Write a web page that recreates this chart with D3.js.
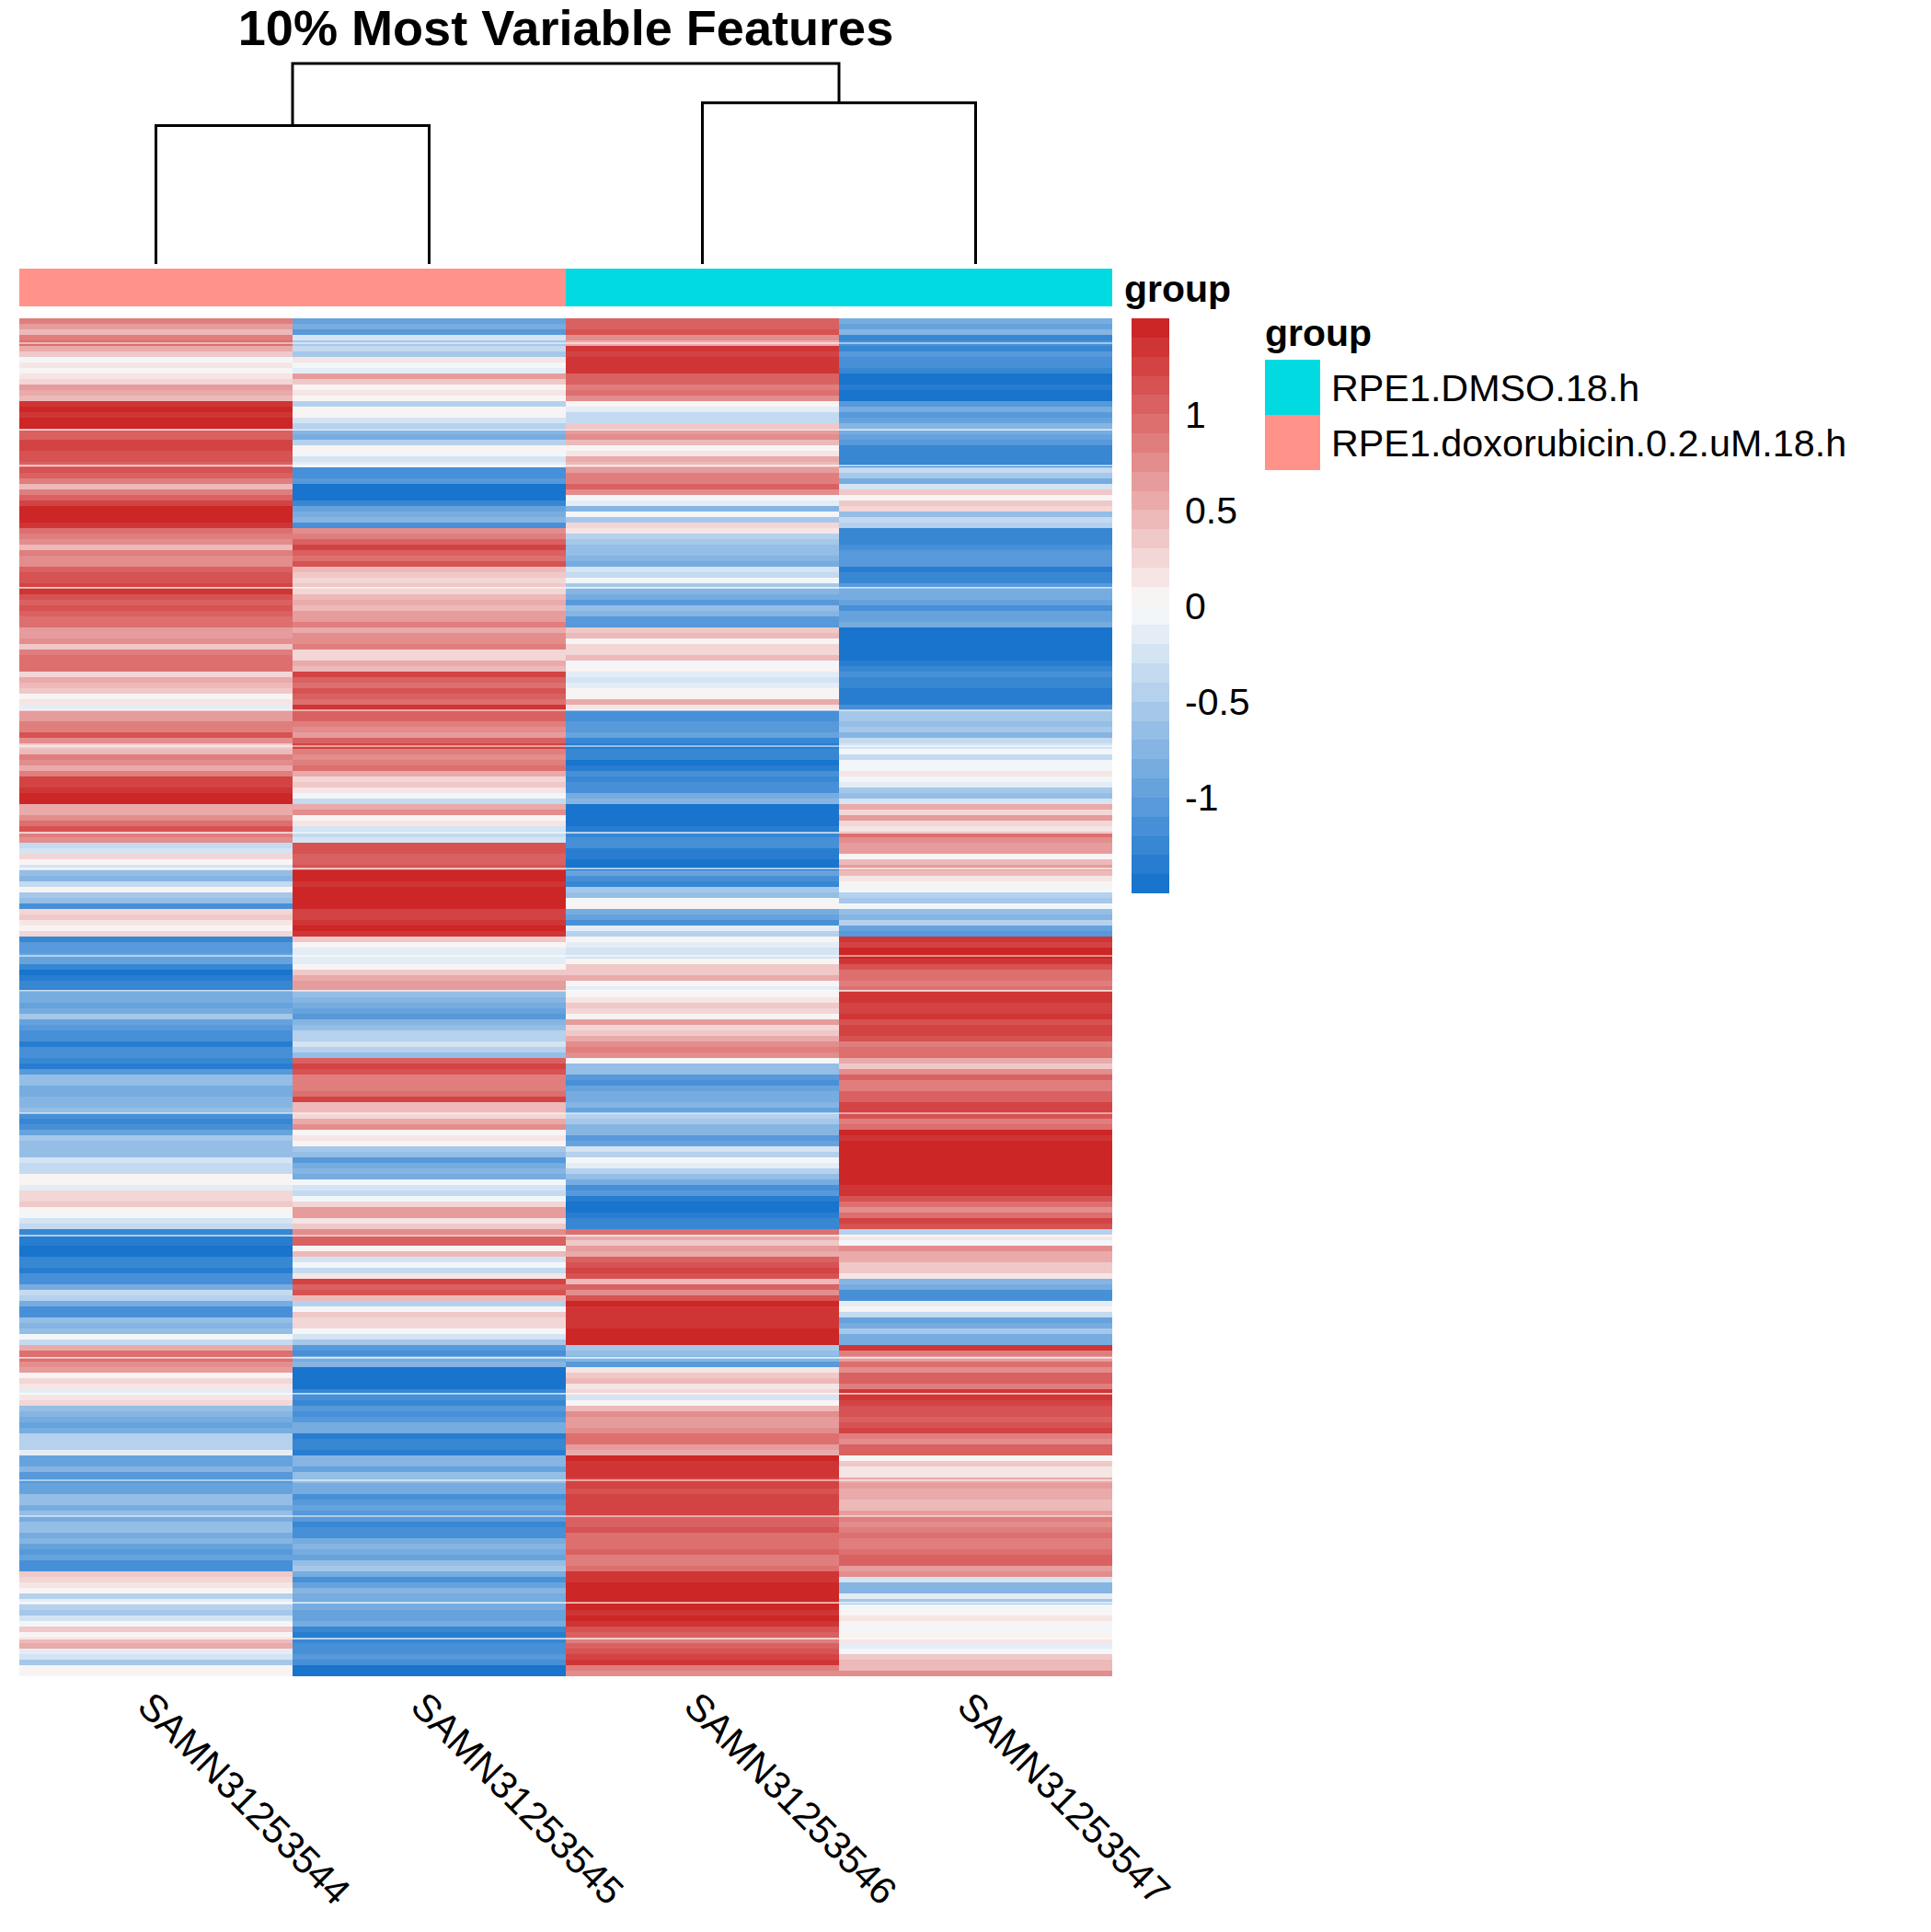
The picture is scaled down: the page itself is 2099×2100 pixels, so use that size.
<!DOCTYPE html>
<html>
<head>
<meta charset="utf-8">
<script src="https://cdn.jsdelivr.net/npm/d3@7"></script>
<style>
  body { margin: 0; background: #fff; }
  text { font-family: "Liberation Sans", Arial, sans-serif; fill: #000; }
</style>
</head>
<body>
<div id="chart"></div>
<script>
// samples and groups
const samples = ["SAMN31253544", "SAMN31253545", "SAMN31253546", "SAMN31253547"];
const sampleGroups = ["RPE1.doxorubicin.0.2.uM.18.h", "RPE1.doxorubicin.0.2.uM.18.h", "RPE1.DMSO.18.h", "RPE1.DMSO.18.h"];
const groupNames = ["RPE1.DMSO.18.h", "RPE1.doxorubicin.0.2.uM.18.h"];
const groupColors = ["#00DAE0", "#FF9289"];
const legendTicks = [-1, -0.5, 0, 0.5, 1];

// dendrogram, heights relative to the root
const mergeTree = {
  height: 1,
  children: [
    { height: 0.69, children: [{ height: 0, name: samples[0] }, { height: 0, name: samples[1] }] },
    { height: 0.804, children: [{ height: 0, name: samples[2] }, { height: 0, name: samples[3] }] }
  ]
};

// scaled expression, top row to bottom row
const valuesA = [
  0.8,0.6,0.4,0.8,0.9,0.5,0.3,-0.1,0.1,0.05,
  0.15,0.2,0.6,0.5,0.4,1.3,1.4,1.3,1.5,1.45,
  1.0,1.0,1.2,1.25,1.1,1.1,1.0,1.1,1.0,0.8,
  0.4,0.8,1.0,1.2,1.4,1.5,1.45,1.3,0.9,0.8,
  0.7,0.45,0.8,0.7,0.75,1.0,1.1,1.15,1.25,1.35,
  1.15,1.05,1.15,1.0,0.95,0.9,0.6,0.6,0.7,0.35,
  0.85,0.95,0.9,0.95,0.2,0.55,0.45,0.35,0.05,0.1,
  -0.2,0.6,0.65,0.85,0.85,1.1,0.7,0.3,0.45,0.8,
  0.75,0.55,0.8,1.2,1.2,1.3,1.5,1.45,0.5,0.55,
  0.75,0.9,1.15,0.8,0.75,-0.4,-0.3,0.2,0.05,-0.3,
  -0.7,-0.8,-0.4,0.0,-0.6,-0.7,-1.2,0.2,0.3,0.1,
  0.05,0.2,-1.3,-1.1,-1.1,-1.0,-1.0,-1.25,-1.45,-1.4,
  -1.3,-1.3,-0.9,-0.85,-0.95,-0.85,-0.55,-0.95,-1.05,-1.15,
  -1.2,-1.35,-1.2,-1.15,-1.25,-1.4,-1.1,-0.7,-0.65,-0.9,
  -0.9,-0.8,-0.8,-0.7,-1.2,-1.25,-1.15,-1.0,-0.55,-0.7,
  -0.7,-0.65,-0.3,-0.4,-0.35,0.03,0.0,-0.2,0.2,0.25,
  0.3,0.0,-0.1,-0.3,-0.35,-1.3,-1.35,-1.4,-1.5,-1.45,
  -1.25,-1.3,-1.4,-1.2,-1.15,-0.9,-0.4,-0.5,-0.9,-1.15,
  -1.15,-0.7,-0.8,-0.7,-0.05,-0.4,0.5,0.95,0.9,0.7,
  0.65,0.03,0.25,0.1,-0.2,0.1,0.2,-0.7,-0.75,-0.85,
  -0.95,-0.85,-0.45,-0.5,-0.45,-0.2,-1.0,-0.95,-0.75,-1.1,
  -1.1,-1.0,-0.95,-0.65,-0.7,-0.85,-0.7,-0.85,-0.65,-0.7,
  -0.85,-0.75,-1.0,-1.05,-0.95,-1.2,-1.15,0.3,0.2,0.1,
  0.02,-0.5,-0.2,-0.45,-0.55,-0.3,-0.1,0.3,0.0,0.45,
  0.55,-0.2,-0.3,-0.55,0.05,0.05
];
const valuesB = [
  -0.95,-0.85,-1.05,-0.3,-0.6,-0.4,-0.55,0.1,-0.03,-0.2,
  0.6,0.3,0.05,0.1,0.0,-0.5,0.02,0.02,-0.3,-0.45,
  -0.8,-0.85,-0.5,0.0,-0.1,-0.3,-0.2,-1.2,-1.15,-1.05,
  -1.45,-1.5,-1.45,-1.3,-1.0,-0.85,-0.75,-1.2,0.7,0.8,
  1.0,1.2,1.05,0.95,1.1,0.4,0.35,0.25,0.3,0.2,
  0.4,0.5,0.45,0.6,0.65,0.8,0.55,0.7,0.7,0.85,
  0.2,0.25,0.5,0.45,1.25,1.0,0.95,1.1,1.05,0.95,
  1.3,1.05,1.05,0.8,0.75,0.65,1.05,1.2,0.8,0.75,
  0.8,0.95,0.5,0.2,0.35,0.1,-0.1,-0.35,0.55,0.7,
  0.05,0.1,-0.3,-0.4,-0.25,1.1,1.15,1.0,1.05,1.1,
  1.45,1.4,1.35,1.45,1.5,1.45,1.4,1.2,1.25,1.3,
  1.4,1.35,0.3,0.0,-0.15,-0.2,-0.2,0.05,0.3,0.55,
  0.65,0.6,-0.7,-0.75,-0.9,-0.95,-1.1,-0.75,-0.7,-0.45,
  -0.45,-0.25,-0.5,-0.7,1.0,1.25,1.15,0.85,0.8,0.85,
  0.95,1.2,0.45,0.4,0.25,0.55,0.7,0.02,0.15,0.03,
  -0.6,-0.7,-1.1,-0.85,-0.75,-0.9,-0.03,-0.25,-0.4,-0.1,
  0.25,0.6,0.65,0.15,0.3,0.75,1.0,1.05,0.02,0.45,
  -0.3,-0.1,-0.4,0.1,1.25,1.05,1.15,0.45,-0.45,-0.1,
  0.3,0.25,0.2,-0.1,-0.3,-0.55,-1.05,-1.2,-0.9,-0.75,
  -1.5,-1.5,-1.5,-1.45,-1.3,-1.15,-1.3,-1.1,-1.15,-1.05,
  -0.85,-0.85,-1.35,-1.3,-1.3,-1.35,-0.75,-0.75,-1.0,-0.65,
  -0.7,-0.9,-0.85,-1.2,-1.05,-1.0,-1.05,-1.1,-1.25,-1.15,
  -1.2,-0.85,-0.8,-0.9,-0.95,-0.65,-0.6,-0.9,-1.2,-0.95,
  -0.75,-0.85,-0.9,-0.85,-0.95,-1.0,-0.9,-1.3,-1.35,-1.25,
  -1.15,-1.2,-1.1,-1.15,-1.45,-1.45
];
const valuesC = [
  1.0,1.05,1.15,0.7,0.5,1.3,1.25,1.35,1.3,1.3,
  1.0,1.05,0.85,0.9,0.75,0.03,-0.2,-0.35,-0.4,0.3,
  0.65,0.7,0.4,0.03,0.15,0.55,0.4,0.6,0.8,0.8,
  1.0,0.7,-0.1,-0.15,-0.75,-0.05,-0.6,0.25,0.15,-0.45,
  -0.55,-0.65,-0.7,-0.75,-0.9,-0.3,-0.35,-0.1,-0.6,-0.75,
  -0.85,-1.1,-0.65,-0.75,-1.05,-1.1,0.35,0.4,0.05,0.25,
  0.2,0.4,-0.1,0.0,-0.2,-0.3,-0.2,0.0,0.0,0.5,
  0.15,-1.2,-1.15,-1.05,-1.1,-1.0,-1.25,-1.35,-1.3,-1.25,
  -1.45,-1.4,-1.2,-1.25,-1.2,-1.15,-0.9,-0.8,-1.5,-1.5,
  -1.5,-1.5,-1.4,-1.25,-1.2,-1.15,-1.35,-1.4,-1.45,-1.45,
  -1.0,-1.15,-1.3,-0.6,-0.7,-0.1,0.0,-0.85,-1.0,-1.15,
  -0.2,-0.5,0.05,-0.15,-0.3,-0.25,0.03,0.3,0.35,0.5,
  0.0,-0.15,0.02,0.15,0.3,0.25,0.05,0.6,0.25,0.35,
  0.5,0.7,0.85,0.7,-0.1,-0.65,-0.7,-1.1,-1.15,-0.95,
  -0.9,-0.85,-0.8,-0.95,-0.45,-0.6,-0.75,-0.75,-1.1,-0.95,
  -0.3,-0.45,-0.1,-0.2,-0.45,-0.7,-0.85,-1.15,-1.1,-1.35,
  -1.5,-1.45,-1.4,-1.3,-1.25,0.9,0.55,0.35,0.65,0.55,
  1.05,1.15,1.2,1.1,0.4,1.0,0.7,1.1,1.45,1.35,
  1.3,1.35,1.3,1.5,1.45,1.45,-0.6,-0.7,-0.75,-1.1,
  0.1,0.35,0.4,0.15,0.2,-0.3,0.02,0.4,0.7,0.65,
  0.6,0.75,0.9,0.95,0.65,0.55,1.4,1.35,1.3,1.35,
  1.2,1.2,1.15,1.25,1.2,1.25,1.25,1.0,1.0,1.15,
  0.95,0.9,0.95,1.0,0.85,0.85,0.95,1.35,1.3,1.4,
  1.4,1.5,1.45,1.45,1.35,1.4,1.3,1.1,1.0,0.85,
  1.0,1.15,1.2,1.3,0.8,0.75
];
const valuesD = [
  -0.9,-1.0,-0.75,-1.3,-1.15,-1.25,-1.1,-1.15,-1.2,-1.25,
  -1.5,-1.45,-1.4,-1.45,-1.45,-1.05,-0.85,-1.05,-0.95,-0.75,
  -0.85,-0.95,-1.05,-1.3,-1.25,-1.3,-1.25,-0.4,-0.6,-0.9,
  -0.3,0.35,0.03,0.3,0.2,-0.7,-0.35,-0.45,-1.3,-1.25,
  -1.25,-1.15,-1.05,-1.05,-1.1,-1.35,-1.3,-1.25,-1.1,-0.9,
  -0.85,-0.95,-1.15,-0.95,-1.0,-0.9,-1.5,-1.5,-1.5,-1.5,
  -1.45,-1.45,-1.35,-1.3,-1.2,-1.25,-1.3,-1.35,-1.35,-1.4,
  -1.15,-0.55,-0.6,-0.7,-0.55,-0.75,-0.4,-0.3,-0.05,-0.4,
  -0.05,-0.05,0.1,-0.1,-0.2,-0.6,-0.65,-0.25,0.5,0.25,
  0.6,0.2,0.15,0.95,0.75,0.6,0.6,0.05,0.45,0.6,
  0.45,0.15,0.05,-0.1,-0.5,-0.6,-0.1,-0.7,-0.75,-0.5,
  -0.95,-1.05,1.35,1.25,1.4,1.4,1.35,1.1,0.9,0.95,
  0.85,0.9,1.35,1.3,1.25,1.25,1.3,1.1,1.2,1.2,
  1.1,0.85,0.9,0.95,0.5,0.3,0.75,1.0,0.85,0.85,
  1.05,1.05,1.25,1.2,1.15,0.85,0.9,1.45,1.35,1.4,
  1.5,1.5,1.45,1.5,1.5,1.5,1.4,1.3,1.3,1.1,
  0.95,0.7,0.9,1.2,1.15,-0.45,0.15,-0.1,0.7,0.5,
  0.55,0.3,0.35,0.1,-0.75,-0.9,-1.15,-1.2,-0.2,0.03,
  -0.4,-0.95,-0.85,-0.6,-0.85,-0.9,1.3,0.8,0.65,0.9,
  0.75,1.0,1.05,0.85,1.3,1.35,1.2,1.15,1.1,1.05,
  1.15,1.2,0.85,0.75,1.0,1.05,0.03,0.3,0.15,0.15,
  0.5,0.6,0.5,0.55,0.45,0.45,0.65,0.85,0.7,0.8,
  0.9,0.85,0.8,0.9,1.0,1.0,0.6,0.75,-0.3,-0.75,
  -0.8,-0.2,-0.6,-0.1,0.02,0.1,0.03,-0.1,0.05,0.12,
  -0.15,-0.1,0.35,0.45,0.4,0.7
];
const columns = [valuesA, valuesB, valuesC, valuesD];

// thin white seams left by the raster, as row positions
const seamRows = [4.5, 20.2, 26.7, 48.8, 71, 77.5, 93.2, 99.7, 115.5, 121.8, 144, 166.2, 188.3, 194.8, 210.5, 217, 232.7, 239.2];

const width = 2099, height = 2100;
const heat = { left: 21, right: 1209, top: 346, bottom: 1822 };

const svg = d3.select("#chart").append("svg")
  .attr("width", width)
  .attr("height", height)
  .style("display", "block");

const rowCount = valuesA.length;

const x = d3.scaleBand().domain(samples).range([heat.left, heat.right]);
const y = d3.scaleLinear().domain([0, rowCount]).range([heat.top, heat.bottom]);

// blue - white - red ramp cut into 30 steps
const ramp = d3.scaleLinear().domain([0, 0.5, 1]).range(["#1874CD", "#FBFBFB", "#CD2626"]);
const steps = d3.range(30).map(i => ramp(i / 29));
const color = d3.scaleQuantize().domain([-1.5, 1.5]).range(steps);
const groupColor = d3.scaleOrdinal().domain(groupNames).range(groupColors);

// heatmap cells
samples.forEach((sample, c) => {
  svg.append("g").selectAll("rect")
    .data(columns[c])
    .enter()
    .append("rect")
    .attr("x", x(sample))
    .attr("y", (d, i) => y(i))
    .attr("width", x.bandwidth())
    .attr("height", (d, i) => y(i + 1) - y(i))
    .attr("fill", d => color(d))
    .attr("shape-rendering", "crispEdges");
});

svg.append("g").selectAll("line")
  .data(seamRows)
  .enter()
  .append("line")
  .attr("x1", heat.left)
  .attr("x2", heat.right)
  .attr("y1", d => y(d))
  .attr("y2", d => y(d))
  .attr("stroke", "#fff")
  .attr("stroke-width", 1.2);

// annotation bar
svg.append("g").selectAll("rect")
  .data(samples)
  .enter()
  .append("rect")
  .attr("x", d => x(d))
  .attr("y", 292)
  .attr("width", x.bandwidth())
  .attr("height", 41)
  .attr("fill", (d, i) => groupColor(sampleGroups[i]))
  .attr("shape-rendering", "crispEdges");

svg.append("text")
  .attr("x", 1222)
  .attr("y", 328)
  .attr("font-size", 41)
  .attr("font-weight", "bold")
  .text("group");

// dendrogram
const dendroY = d3.scaleLinear().domain([0, 1]).range([287, 69]);
const root = d3.hierarchy(mergeTree);
root.eachAfter(node => {
  node.px = node.children ? d3.mean(node.children, k => k.px) : x(node.data.name) + x.bandwidth() / 2;
});
const dendroPath = d3.path();
root.descendants().filter(n => n.children).forEach(node => {
  const top = dendroY(node.data.height);
  const [a, b] = node.children;
  dendroPath.moveTo(a.px, dendroY(a.data.height));
  dendroPath.lineTo(a.px, top);
  dendroPath.lineTo(b.px, top);
  dendroPath.lineTo(b.px, dendroY(b.data.height));
});
svg.append("path")
  .attr("d", dendroPath.toString())
  .attr("fill", "none")
  .attr("stroke", "#000")
  .attr("stroke-width", 3);

// title
svg.append("text")
  .attr("x", (heat.left + heat.right) / 2)
  .attr("y", 49)
  .attr("text-anchor", "middle")
  .attr("font-size", 54.1)
  .attr("font-weight", "bold")
  .text("10% Most Variable Features");

// column labels
svg.append("g").selectAll("text")
  .data(samples)
  .enter()
  .append("text")
  .attr("transform", d => `translate(${x(d) + x.bandwidth() / 2 - 22},1857) rotate(45)`)
  .attr("font-size", 41.6)
  .text(d => d);

// colour bar
const legendY = d3.scaleLinear().domain([-1.5, 1.5]).range([971, 346]);
const stepSize = 3 / steps.length;
svg.append("g").selectAll("rect")
  .data(steps)
  .enter()
  .append("rect")
  .attr("x", 1230)
  .attr("y", (d, i) => legendY(-1.5 + (i + 1) * stepSize))
  .attr("width", 41)
  .attr("height", (d, i) => legendY(-1.5 + i * stepSize) - legendY(-1.5 + (i + 1) * stepSize))
  .attr("fill", d => d)
  .attr("shape-rendering", "crispEdges");

svg.append("g").selectAll("text")
  .data(legendTicks)
  .enter()
  .append("text")
  .attr("x", 1288)
  .attr("y", d => legendY(d) + 14.5)
  .attr("font-size", 41)
  .text(d => d);

// group legend
svg.append("text")
  .attr("x", 1375)
  .attr("y", 376)
  .attr("font-size", 41)
  .attr("font-weight", "bold")
  .text("group");

const legendRow = d3.scaleBand().domain(groupNames).range([391, 511]);
svg.append("g").selectAll("rect")
  .data(groupNames)
  .enter()
  .append("rect")
  .attr("x", 1375)
  .attr("y", d => legendRow(d))
  .attr("width", 60)
  .attr("height", legendRow.bandwidth())
  .attr("fill", d => groupColor(d));

svg.append("g").selectAll("text")
  .data(groupNames)
  .enter()
  .append("text")
  .attr("x", 1447)
  .attr("y", d => legendRow(d) + legendRow.bandwidth() / 2 + 15)
  .attr("font-size", 41.3)
  .text(d => d);
</script>
</body>
</html>
